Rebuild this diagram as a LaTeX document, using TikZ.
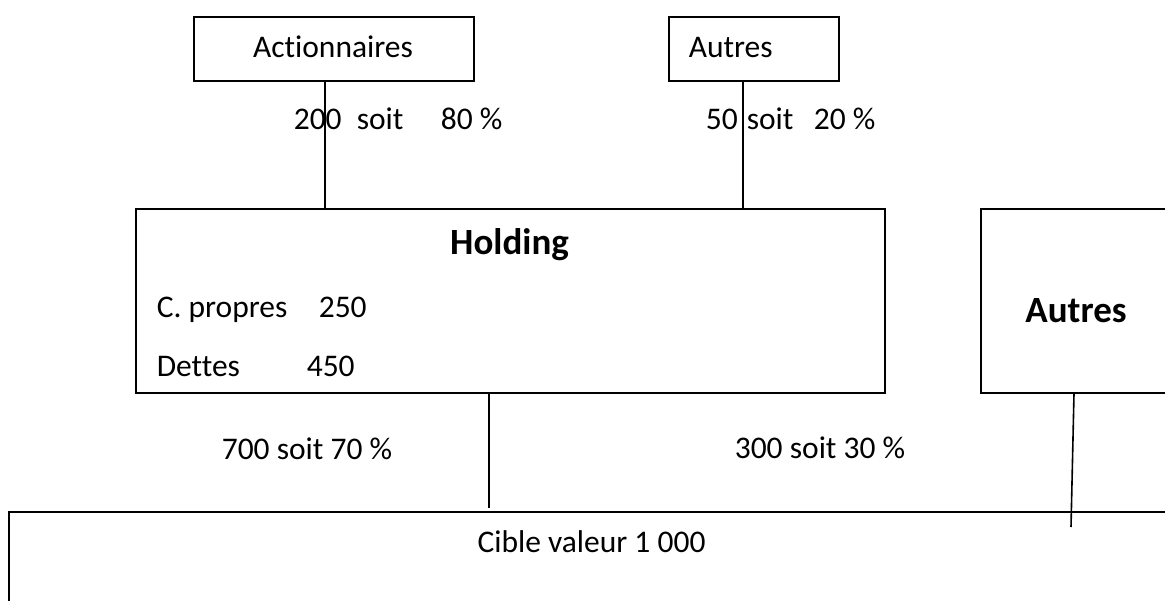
\documentclass[tikz,border=0pt]{standalone}
\usepackage{fontspec}
\setmainfont{Carlito}[Ligatures=NoCommon]
\begin{document}
\begin{tikzpicture}[x=1pt,y=-1pt,line width=1.6pt,
  box/.style={draw,rectangle,anchor=north west,inner sep=0pt},
  txt/.style={font=\fontsize{31.5}{36}\selectfont,anchor=base west,inner sep=0pt},
  ctxt/.style={font=\fontsize{31.5}{36}\selectfont,anchor=base,inner sep=0pt},
  btxt/.style={font=\fontsize{37}{42}\selectfont\bfseries,anchor=base,inner sep=0pt}]
\clip (0,0) rectangle (1165,601);
\fill[white] (0,0) rectangle (1165,601);
% boxes
\node[box,minimum width=280,minimum height=64] (act) at (193,16) {};
\node[box,minimum width=170,minimum height=64] (aut1) at (668,16) {};
\node[box,minimum width=749,minimum height=184] (hold) at (135,208) {};
\node[box,minimum width=200,minimum height=184] (aut2) at (980,208) {};
\node[box,minimum width=1200,minimum height=150] (cible) at (8,511) {};
% texts in boxes
\node[ctxt] (tact) at (333,58) {Actionnaires};
\node[txt] (taut1) at (688,58) {Autres};
\node[btxt] (thold) at (509.5,255) {Holding};
\node[txt] (tcp) at (156,318) {C. propres};
\node[txt] (tcpv) at (318,318) {250};
\node[txt] (tdet) at (156,377) {Dettes};
\node[txt] (tdetv) at (306,377) {450};
\node[btxt] (taut2) at (1076,323) {Autres};
\node[ctxt] (tcible) at (591.5,552) {Cible valeur 1 000};
% connector labels
\node[txt] (l1a) at (293,130) {200};
\node[txt] (l1b) at (356,130) {soit};
\node[txt] (l1c) at (440,130) {80 \%};
\node[txt] (l2a) at (705,130) {50};
\node[txt] (l2b) at (746,130) {soit};
\node[txt] (l2c) at (813,130) {20 \%};
\node[txt] (l3) at (221,460) {700 soit 70 \%};
\node[txt] (l4) at (734,459) {300 soit 30 \%};
% connectors
\coordinate (x1) at (325,0);
\coordinate (x2) at (743,0);
\coordinate (x3) at (489,0);
\coordinate (x4) at (1074,0);
\coordinate (e3) at (489,508);
\coordinate (e4) at (1071,527);
\draw (act.south -| x1) -- (hold.north -| x1);
\draw (aut1.south -| x2) -- (hold.north -| x2);
\draw (hold.south -| x3) -- (e3);
\draw (aut2.south -| x4) -- (e4);
\end{tikzpicture}
\end{document}
